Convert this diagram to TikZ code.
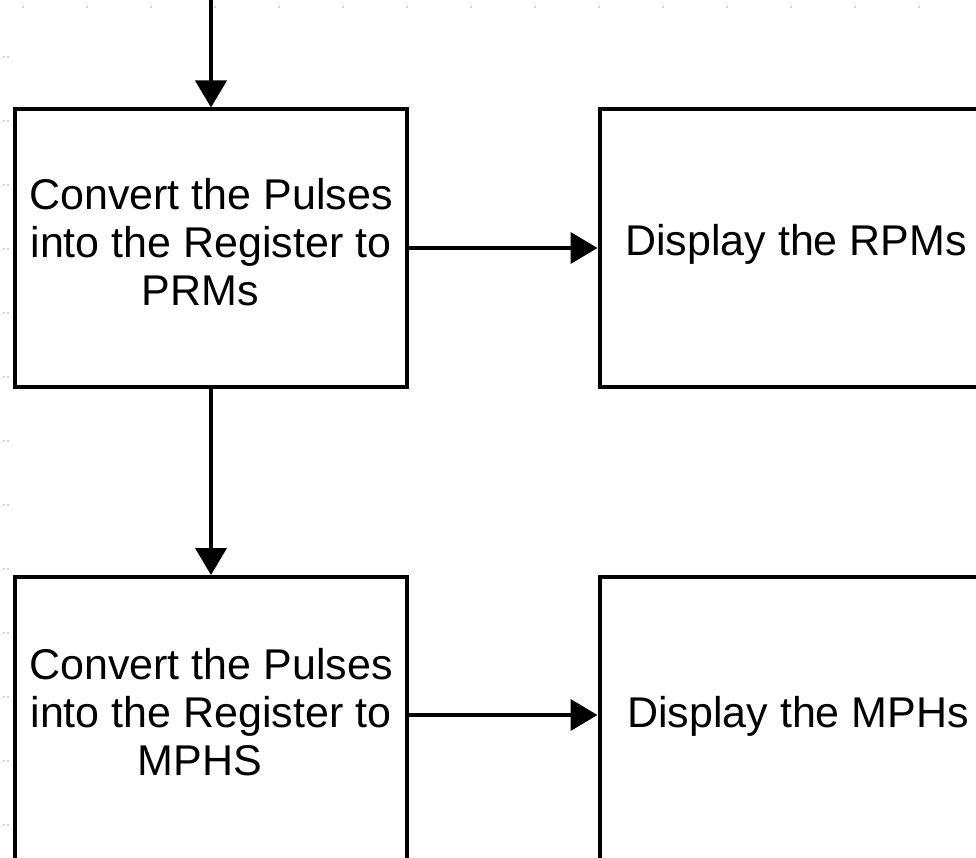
\documentclass[tikz,border=0pt]{standalone}
\usepackage{fontspec}
\setmainfont{Liberation Sans}
\usetikzlibrary{arrows.meta}
\definecolor{gridmark}{RGB}{208,210,246}
\tikzset{
  flowbox/.style={draw=black, line width=4pt, fill=white, rectangle,
    minimum width=392pt, inner sep=0pt},
  boxtext/.style={font=\fontsize{43}{48}\selectfont, align=center, inner sep=0pt},
  sidetext/.style={font=\fontsize{43}{48}\selectfont, inner sep=0pt, anchor=base west},
  flowarrow/.style={draw=black, line width=4pt,
    -{Triangle[length=27pt,width=31pt]}},
}
\begin{document}
\begin{tikzpicture}[x=1pt,y=-1pt]
\useasboundingbox (0,0) rectangle (976,858);
\clip (0,0) rectangle (976,858);
\fill[white] (0,0) rectangle (976,858);

% faint ruler marks along the top and left edges
\foreach \i in {0,...,14} \fill[gridmark] (22+64*\i,6) rectangle ++(2,2);
\foreach \j in {0,...,12} {
  \fill[gridmark] (3,56+64*\j) rectangle ++(1.5,2);
  \fill[gridmark] (7,56+64*\j) rectangle ++(1.5,2);
}

% process boxes
\node[flowbox, minimum height=277pt] (conv1) at (211,248) {};
\node[flowbox, minimum height=277pt] (disp1) at (795.5,248) {};
\node[flowbox, minimum height=300pt] (conv2) at (211,727) {};
\node[flowbox, minimum height=300pt] (disp2) at (795.5,727) {};

% box texts
\node[boxtext] (conv1txt) at (211,242.6)
  {Convert the Pulses\\into the Register to\\PRMs\hspace*{22pt}};
\node[boxtext] (conv2txt) at (211,712.6)
  {Convert the Pulses\\into the Register to\\MPHS\hspace*{22pt}};
\node[sidetext] (disp1txt) at (625,256) {Display the RPMs};
\node[sidetext] (disp2txt) at (627,727) {Display the MPHs};

% connectors
\coordinate (entry) at (211,-20);
\draw[flowarrow] (entry) -- (conv1.north);
\draw[flowarrow] (conv1.east) -- (disp1.west);
\draw[flowarrow] (conv1.south) -- (conv2.north);
\draw[flowarrow] ([yshift=12pt]conv2.east) -- ([yshift=12pt]disp2.west);
\end{tikzpicture}
\end{document}
